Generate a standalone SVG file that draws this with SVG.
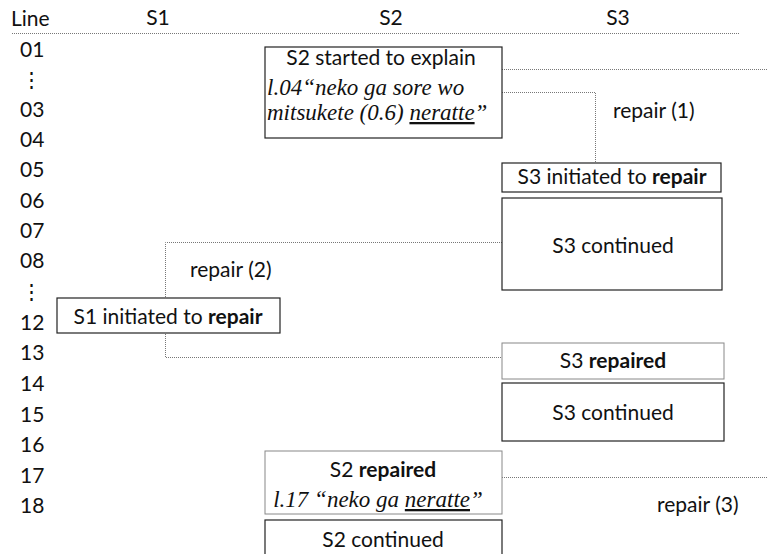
<svg xmlns="http://www.w3.org/2000/svg" width="767" height="554" viewBox="0 0 767 554">
<style>
.t{font-family:Lato,"Open Sans","Noto Sans",sans-serif;font-size:21px;fill:#111}
.hd{font-family:Lato,"Open Sans","Noto Sans",sans-serif;font-size:21px;fill:#111}
.it{font-family:"Liberation Serif","DejaVu Serif",serif;font-style:italic;font-size:23px;fill:#111}
.box{fill:#fff;stroke:#222;stroke-width:1.2}
.gbox{fill:#fff;stroke:#888;stroke-width:1}
.dot{fill:none;stroke:#777;stroke-width:1;stroke-dasharray:1 1}
</style>
<rect width="767" height="554" fill="#fff"/>
<g id="header">
<text class="hd" x="11" y="26">Line</text>
<text class="hd" x="158" y="25" text-anchor="middle">S1</text>
<text class="hd" x="391" y="25" text-anchor="middle">S2</text>
<text class="hd" x="618" y="25" text-anchor="middle">S3</text>
<line class="dot" x1="12" y1="33.5" x2="740" y2="33.5"/>
</g>
<g id="linenumbers" class="hd">
<text x="20" y="57">01</text>
<text x="31" y="87" text-anchor="middle">⋮</text>
<text x="20" y="117">03</text>
<text x="20" y="147">04</text>
<text x="20" y="177">05</text>
<text x="20" y="208">06</text>
<text x="20" y="238">07</text>
<text x="20" y="268">08</text>
<text x="31" y="299" text-anchor="middle">⋮</text>
<text x="20" y="330">12</text>
<text x="20" y="360">13</text>
<text x="20" y="391">14</text>
<text x="20" y="422">15</text>
<text x="20" y="452">16</text>
<text x="20" y="483">17</text>
<text x="20" y="513">18</text>
</g>
<g id="connectors">
<line class="dot" x1="502" y1="69.5" x2="767" y2="69.5"/>
<polyline class="dot" points="502,92.5 595.5,92.5 595.5,162"/>
<polyline class="dot" points="502,242.5 165.5,242.5 165.5,357.5 502,357.5"/>
<line class="dot" x1="502" y1="477.5" x2="767" y2="477.5"/>
<text class="t" x="613" y="118">repair (1)</text>
<text class="t" x="190" y="277">repair (2)</text>
<text class="t" x="657" y="512">repair (3)</text>
</g>
<g id="s2-started">
<rect class="box" x="265" y="47" width="237" height="91"/>
<text class="t" x="381" y="65" text-anchor="middle">S2 started to explain</text>
<text class="it" x="267" y="95">l.04“neko ga sore wo</text>
<text class="it" x="267" y="120">mitsukete (0.6) <tspan text-decoration="underline">neratte</tspan>”</text>
</g>
<g id="s3-initiated">
<rect class="box" x="502" y="163" width="219" height="29"/>
<text class="t" x="612" y="184" text-anchor="middle">S3 initiated to <tspan font-weight="bold">repair</tspan></text>
</g>
<g id="s3-continued-1">
<rect class="box" x="502" y="198" width="220" height="92"/>
<text class="t" x="613" y="253" text-anchor="middle">S3 continued</text>
</g>
<g id="s1-initiated">
<rect class="box" x="57" y="298" width="223" height="35"/>
<text class="t" x="168" y="324" text-anchor="middle">S1 initiated to <tspan font-weight="bold">repair</tspan></text>
</g>
<g id="s3-repaired">
<rect class="gbox" x="502" y="343" width="222" height="36"/>
<text class="t" x="613" y="368" text-anchor="middle">S3 <tspan font-weight="bold">repaired</tspan></text>
</g>
<g id="s3-continued-2">
<rect class="box" x="502" y="383" width="222" height="58"/>
<text class="t" x="613" y="420" text-anchor="middle">S3 continued</text>
</g>
<g id="s2-repaired">
<rect class="gbox" x="265" y="451" width="237" height="63"/>
<text class="t" x="383" y="477" text-anchor="middle">S2 <tspan font-weight="bold">repaired</tspan></text>
<text class="it" x="378" y="507" text-anchor="middle">l.17 “neko ga <tspan text-decoration="underline">neratte</tspan>”</text>
</g>
<g id="s2-continued">
<rect class="box" x="265" y="520" width="237" height="40"/>
<text class="t" x="383" y="547" text-anchor="middle">S2 continued</text>
</g>
</svg>
